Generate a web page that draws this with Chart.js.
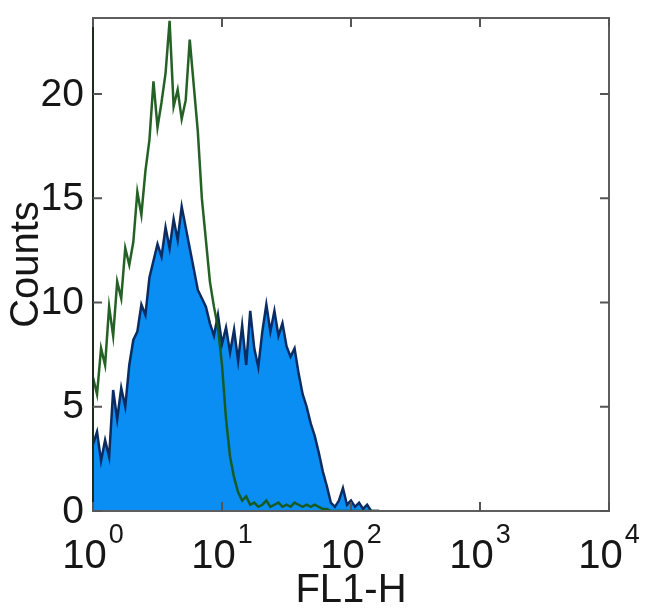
<!DOCTYPE html>
<html>
<head>
<meta charset="utf-8">
<script src="https://cdn.jsdelivr.net/npm/chart.js@4.4.1/dist/chart.umd.min.js"></script>
<style>
  html, body { margin: 0; padding: 0; background: #ffffff; }
  #wrap { width: 650px; height: 616px; position: relative; }
</style>
</head>
<body>
<div id="wrap"><canvas id="chart" width="650" height="616"></canvas></div>
<script>
// Histogram bins: 32 channels per decade, starting at 10^0
const BINS_PER_DECADE = 32;
const binCount = 72;
const channels = Array.from({ length: binCount }, (_, i) => Math.pow(10, i / BINS_PER_DECADE));

// Stained sample (blue filled)
const stainedCounts = [
  3.2, 3.8, 2.4, 3.4, 2.6, 5.8, 4.4, 5.9, 5.0, 7.0,
  8.2, 8.6, 9.9, 9.4, 11.2, 12.0, 12.8, 12.2, 13.6, 12.6,
  14.0, 13.0, 14.6, 13.6, 12.6, 11.6, 10.6, 10.2, 9.8, 9.0,
  8.4, 9.4, 8.0, 8.8, 7.6, 8.7, 7.2, 8.9, 7.0, 9.6,
  7.8, 6.9, 8.6, 9.9, 8.6, 9.6, 8.4, 9.0, 7.9, 7.4,
  7.8, 6.6, 5.6, 5.0, 4.2, 3.6, 2.8, 1.9, 1.2, 0.4,
  0.2, 0.5, 1.1, 0.3, 0.5, 0.2, 0.4, 0.1, 0.3, 0, 0, 0
];

// Control sample (green outline)
const controlCounts = [
  6.4, 5.6, 7.8, 7.0, 9.8, 8.4, 11.0, 10.2, 12.6, 11.8,
  12.9, 15.3, 14.2, 16.3, 17.8, 20.6, 18.4, 19.6, 21.0, 23.5,
  19.4, 20.2, 18.8, 19.7, 22.6, 20.4, 18.2, 15.0, 13.0, 11.0,
  9.8, 8.8, 7.0, 4.4, 2.6, 1.6, 0.9, 0.5, 0.7, 0.3,
  0.4, 0.2, 0.3, 0.5, 0.2, 0.3, 0.4, 0.2, 0.3, 0.2,
  0.4, 0.3, 0.2, 0.3, 0.2, 0.3, 0.2, 0.1, 0.1, 0,
  0, 0, 0, 0, 0, 0, 0, 0, 0, 0, 0, 0
];

const xTickValues = [1, 10, 100, 1000, 10000];
const xTickExponents = ['0', '1', '2', '3', '4'];
const yTickValues = [0, 5, 10, 15, 20];
const Y_MAX = 23.64;

const FONT_FAMILY = '"Liberation Sans", Arial, Helvetica, sans-serif';
const TEXT_COLOR = '#161616';

const toPoints = (counts) => counts.map((c, i) => ({ x: channels[i], y: c }));

// Frame, inward ticks and MATLAB-style labels
const framePlugin = {
  id: 'frame',
  afterDraw(chart) {
    const { ctx, chartArea: a, scales } = chart;
    const xs = scales.x, ys = scales.y;
    ctx.save();

    // box
    ctx.strokeStyle = '#5e5e5e';
    ctx.lineWidth = 2;
    ctx.strokeRect(a.left, a.top, a.right - a.left, a.bottom - a.top);
    ctx.strokeStyle = '#1d2b1d';
    ctx.beginPath();
    ctx.moveTo(a.left, a.top);
    ctx.lineTo(a.left, a.bottom);
    ctx.stroke();

    // ticks
    const tickLen = 9;
    ctx.strokeStyle = '#555555';
    ctx.lineWidth = 2;
    ctx.beginPath();
    yTickValues.forEach(v => {
      const py = ys.getPixelForValue(v);
      ctx.moveTo(a.left, py); ctx.lineTo(a.left + tickLen, py);
      ctx.moveTo(a.right, py); ctx.lineTo(a.right - tickLen, py);
    });
    xTickValues.forEach(v => {
      const px = xs.getPixelForValue(v);
      ctx.moveTo(px, a.bottom); ctx.lineTo(px, a.bottom - tickLen);
      ctx.moveTo(px, a.top); ctx.lineTo(px, a.top + tickLen);
    });
    ctx.stroke();

    ctx.fillStyle = TEXT_COLOR;

    // y tick labels
    ctx.font = '39px ' + FONT_FAMILY;
    ctx.textAlign = 'right';
    ctx.textBaseline = 'middle';
    yTickValues.forEach(v => {
      ctx.fillText(String(v), a.left - 9, ys.getPixelForValue(v) + 1);
    });

    // x tick labels: 10 with superscript exponent
    ctx.textAlign = 'left';
    ctx.textBaseline = 'alphabetic';
    xTickValues.forEach((v, i) => {
      const px = xs.getPixelForValue(v);
      ctx.font = '40px ' + FONT_FAMILY;
      const w1 = ctx.measureText('10').width;
      ctx.font = '27px ' + FONT_FAMILY;
      const w2 = ctx.measureText(xTickExponents[i]).width;
      const start = px - (w1 + 2 + w2) / 2;
      ctx.font = '40px ' + FONT_FAMILY;
      ctx.fillText('10', start, 568);
      ctx.font = '27px ' + FONT_FAMILY;
      ctx.fillText(xTickExponents[i], start + w1 + 2, 543);
    });

    // axis titles
    ctx.font = '40px ' + FONT_FAMILY;
    ctx.textAlign = 'center';
    ctx.fillText('FL1-H', (a.left + a.right) / 2, 602);

    ctx.translate(38, (a.top + a.bottom) / 2);
    ctx.rotate(-Math.PI / 2);
    ctx.fillText('Counts', 0, 0);

    ctx.restore();
  }
};

new Chart(document.getElementById('chart').getContext('2d'), {
  type: 'line',
  data: {
    datasets: [
      {
        label: 'Control',
        data: toPoints(controlCounts),
        borderColor: 'rgba(24, 88, 24, 0.95)',
        borderWidth: 2.5,
        pointRadius: 0,
        fill: false,
        tension: 0
      },
      {
        label: 'FL1 stained',
        data: toPoints(stainedCounts),
        borderColor: '#0a2c62',
        backgroundColor: '#0a8ef3',
        borderWidth: 2.5,
        pointRadius: 0,
        fill: 'origin',
        tension: 0
      }
    ]
  },
  options: {
    responsive: false,
    animation: false,
    layout: { padding: { left: 93, right: 41, top: 18, bottom: 105 } },
    plugins: {
      legend: { display: false },
      tooltip: { enabled: false },
      title: { display: false }
    },
    scales: {
      x: {
        type: 'logarithmic',
        min: 1,
        max: 10000,
        grid: { display: false, drawTicks: false },
        border: { display: false },
        ticks: { display: false },
        afterFit: (s) => { s.height = 0; }
      },
      y: {
        type: 'linear',
        min: 0,
        max: Y_MAX,
        grid: { display: false, drawTicks: false },
        border: { display: false },
        ticks: { display: false },
        afterFit: (s) => { s.width = 0; }
      }
    }
  },
  plugins: [framePlugin]
});
</script>
</body>
</html>
